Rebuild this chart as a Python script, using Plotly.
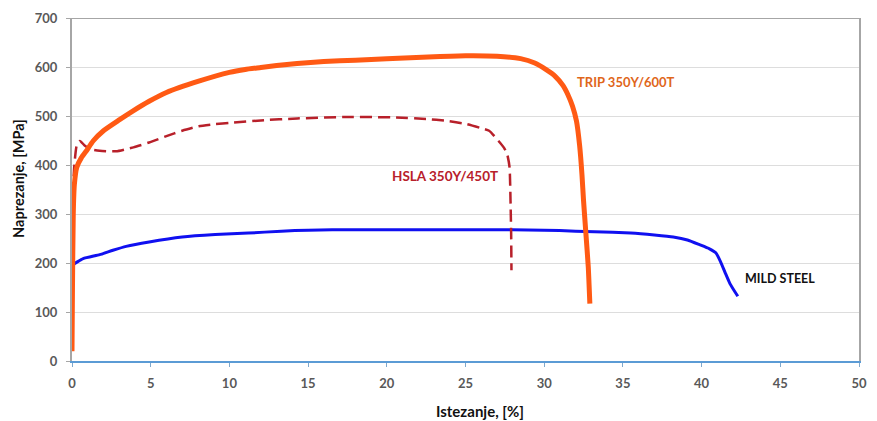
import plotly.graph_objects as go

# Engineering stress-strain curves for three sheet steels
trip_strain = [0, 0.03, 0.08, 0.15, 0.3, 0.6, 0.92, 1.34, 2, 3, 3.86, 4.9, 6, 8.05,
               10, 11, 12, 13, 14.3, 16, 18, 20, 23, 25, 27, 28.5, 29.4, 30.1, 30.7,
               31.2, 31.5, 31.8, 32.05, 32.25, 32.4, 32.5, 32.65, 32.8, 32.9]
trip_stress = [20, 150, 300, 360, 395, 415, 429, 449, 470, 492, 510, 530, 548, 571,
               589, 595, 599, 603, 607, 611, 614, 617, 621, 623, 622, 617, 608, 595,
               581, 562, 544, 520, 490, 440, 380, 327, 260, 192, 117]

hsla_strain = [0.05, 0.15, 0.3, 0.5, 0.8, 1.2, 1.76, 2.8, 3.9, 4.9, 6, 7, 8.05, 9,
               10.1, 12, 14.3, 17.5, 20.6, 22.5, 23.8, 25, 25.9, 26.5, 27.1,
               27.45, 27.65, 27.8, 27.86, 27.9, 27.92]
hsla_stress = [340, 400, 440, 449, 440, 432, 429, 428, 436, 446, 459, 470, 479, 483,
               486, 491, 495, 498, 497, 494, 490, 484, 476, 470, 449,
               435, 422, 395, 327, 260, 185]

mild_strain = [0.02, 0.08, 0.71, 1.76, 2.6, 3.44, 4.9, 7, 9.1, 11.2, 13.3, 15, 18,
               22, 26, 30, 32, 33.2, 35.5, 37, 38.2, 39.1, 39.9, 40.5, 40.9,
               41.2, 41.5, 41.8, 42.3]
mild_stress = [195, 197, 209, 217, 226, 234, 243, 253, 258, 261, 265, 267, 268,
               268, 268, 267, 265, 264, 261, 257, 253, 247, 237, 229, 221,
               203, 180, 158, 132]

x_ticks = [0, 5, 10, 15, 20, 25, 30, 35, 40, 45, 50]
y_ticks = [0, 100, 200, 300, 400, 500, 600, 700]

FONT = "Lato"
TICK_GRAY = "#595959"

fig = go.Figure()

fig.add_trace(go.Scatter(
    x=mild_strain, y=mild_stress, mode="lines", name="MILD STEEL",
    line=dict(color="#1010F0", width=3, shape="spline", smoothing=0.5),
))
fig.add_trace(go.Scatter(
    x=hsla_strain, y=hsla_stress, mode="lines", name="HSLA 350Y/450T",
    line=dict(color="#B8202A", width=2.5, dash="12px,6px", shape="spline", smoothing=0.5),
))
fig.add_trace(go.Scatter(
    x=trip_strain, y=trip_stress, mode="lines", name="TRIP 350Y/600T",
    line=dict(color="#FF5A14", width=5, shape="spline", smoothing=0.5),
))

# Curve labels
fig.add_annotation(x=35.2, y=569, text="<b>TRIP 350Y/600T</b>", showarrow=False,
                   font=dict(family=FONT, size=13, color="#E0661A"))
fig.add_annotation(x=23.7, y=378, text="<b>HSLA 350Y/450T</b>", showarrow=False,
                   font=dict(family=FONT, size=13.5, color="#B8202A"))
fig.add_annotation(x=45.0, y=168, text="<b>MILD STEEL</b>", showarrow=False,
                   font=dict(family=FONT, size=12.5, color="#111111"))

# Axis titles
fig.add_annotation(xref="paper", yref="paper", x=0.518, y=-0.145, yanchor="middle",
                   text="<b>Istezanje, [%]</b>", showarrow=False,
                   font=dict(family=FONT, size=15, color="#111111"))
fig.add_annotation(xref="paper", yref="paper", x=-0.069, y=0.533, xanchor="center",
                   yanchor="middle", textangle=-90, text="<b>Naprezanje, [MPa]</b>",
                   showarrow=False, font=dict(family=FONT, size=14.5, color="#111111"))

# Top frame line
fig.add_shape(type="line", xref="paper", yref="y", x0=0, x1=1, y0=700, y1=700,
              line=dict(color="#A6A6A6", width=2), layer="above")

fig.update_layout(
    width=877, height=421,
    margin=dict(l=72, r=10, t=17, b=60),
    plot_bgcolor="white", paper_bgcolor="white",
    showlegend=False,
    font=dict(family=FONT),
)
fig.update_xaxes(
    range=[0, 50], tickvals=x_ticks, ticktext=[str(v) for v in x_ticks],
    showgrid=False, zeroline=False,
    showline=True, linecolor="#5B9BD5", linewidth=2,
    ticks="outside", ticklen=4, tickcolor="#7FA8CC", ticklabelstandoff=5,
    tickfont=dict(family=FONT, size=13, color=TICK_GRAY, weight="bold"),
)
fig.update_yaxes(
    range=[0, 700], tickvals=y_ticks, ticktext=[str(v) for v in y_ticks],
    showgrid=True, gridcolor="#DDDDDD", gridwidth=1, zeroline=False,
    showline=True, linecolor="#A6A6A6", linewidth=2, mirror=True,
    ticks="outside", ticklen=4, tickcolor="#A6A6A6", ticklabelstandoff=6,
    tickfont=dict(family=FONT, size=13, color=TICK_GRAY, weight="bold"),
)

fig.write_html("out.html")
